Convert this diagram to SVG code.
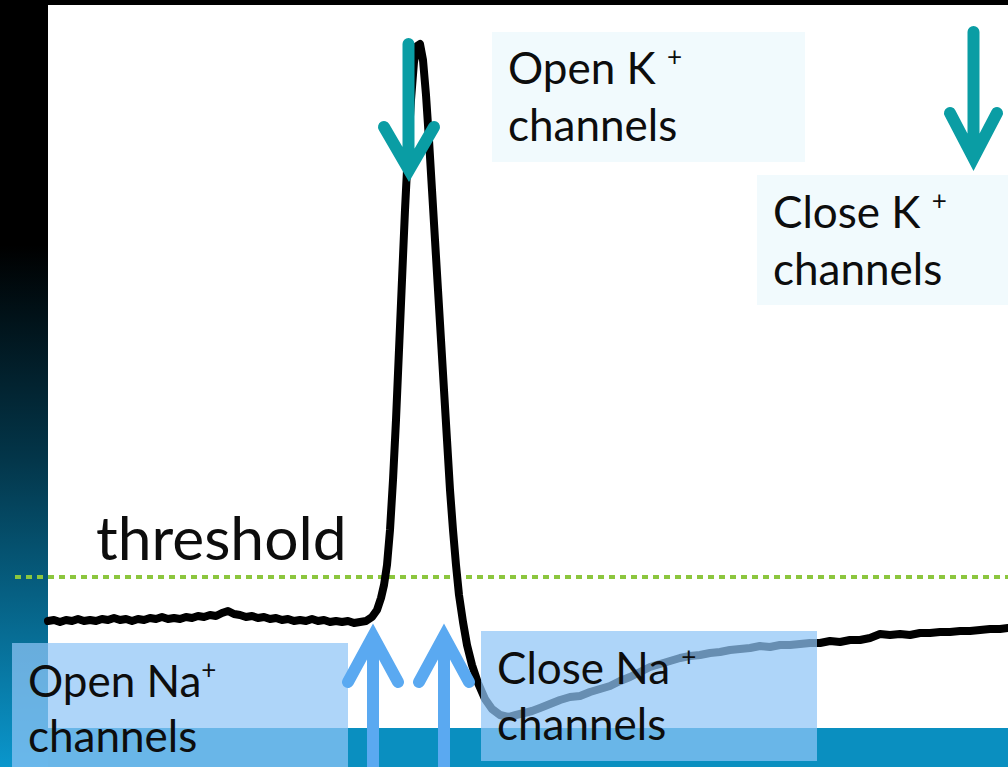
<svg xmlns="http://www.w3.org/2000/svg" width="1008" height="767" viewBox="0 0 1008 767">
  <defs>
    <linearGradient id="bgGrad" x1="0" y1="0" x2="0" y2="767" gradientUnits="userSpaceOnUse">
      <stop offset="0" stop-color="#000000"/>
      <stop offset="0.32" stop-color="#000000"/>
      <stop offset="0.6" stop-color="#03364a"/>
      <stop offset="1" stop-color="#0a96cc"/>
    </linearGradient>
  </defs>
  <style>
    .lbl { font-family: Lato, "Open Sans", "Liberation Sans", sans-serif; font-size: 44px; fill: #0d0d0d; }
    .sup { font-size: 26px; }
    .kbox { fill: #f1fafd; }
    .nabox { fill: #8fc5f6; fill-opacity: 0.72; }
    .trace { fill: none; stroke: #000; stroke-width: 8; stroke-linejoin: round; stroke-linecap: round; }
    .karrow { fill: none; stroke: #0a9da4; stroke-width: 12; stroke-linecap: round; stroke-linejoin: miter; }
    .naarrow { fill: none; stroke: #5aa9f1; stroke-width: 12; stroke-linecap: round; stroke-linejoin: miter; }
  </style>

  <!-- slide background: dark frame, white plotting area, teal footer band -->
  <rect x="0" y="0" width="1008" height="767" fill="url(#bgGrad)"/>
  <rect x="48" y="5" width="960" height="723" fill="#ffffff"/>
  <rect x="48" y="728" width="960" height="39" fill="#0a8fc0"/>

  <!-- threshold level -->
  <line x1="15" y1="577" x2="1008" y2="577" stroke="#8cc63e" stroke-width="4" stroke-dasharray="6 5"/>
  <text class="lbl" x="96" y="560" style="font-size:60.5px">threshold</text>

  <!-- membrane potential trace -->
  <g id="trace">
    <path class="trace" d="M48,621 L54,620 L60,622 L66,620 L72,621 L78,619 L84,621 L90,620 L96,621 L102,619 L108,620 L114,618 L120,620 L126,619 L132,621 L138,619 L144,620 L150,618 L156,619 L162,617 L168,619 L174,618 L180,619 L186,617 L192,618 L198,616 L204,617 L210,615 L216,616 L222,613 L228,611 L234,614 L240,615 L246,617 L252,616 L258,618 L264,617 L270,619 L276,618 L282,620 L288,619 L294,621 L300,620 L306,621 L312,619 L318,621 L324,620 L330,622 L336,621 L342,622 L348,621 L354,623 L360,622 L366,621 L372,617 L377,610 L381,598 L384,585 L387,565 L390,530 L393,480 L396,420 L399,350 L402,280 L405,210 L408,150 L411,100 L414,62 L417,46 L420,44 L423,60 L426,95 L429,140 L432,190 L435,240 L438,290 L441,340 L444,390 L447,440 L450,490 L453,530 L456,565 L459,595 L463,622 L467,645 L472,665 L478,683 L485,699 L492,709 L500,715 L508,717 L516,715 L524,713 L532,711 L540,708 L550,704 L560,700 L570,697 L580,696 L590,692 L600,689 L610,686 L620,681 L630,677 L640,672 L650,667 L660,664 L670,661 L680,658 L690,656 L700,655 L710,653 L720,652 L730,650 L740,649 L750,648 L760,646 L770,647 L780,645 L790,645 L800,644 L810,643 L820,643 L830,641 L840,642 L850,640 L860,640 L870,638 L880,634 L890,635 L900,634 L910,635 L920,633 L930,633 L940,632 L950,632 L960,631 L970,631 L980,630 L990,629 L1000,629 L1008,628"/>
  </g>

  <!-- channel labels -->
  <g id="open-k">
    <rect class="kbox" x="492" y="32" width="313" height="130"/>
    <text class="lbl" x="508" y="84">Open K <tspan class="sup" dy="-18">+</tspan></text>
    <text class="lbl" x="508" y="141">channels</text>
  </g>
  <g id="close-k">
    <rect class="kbox" x="757" y="175" width="251" height="130"/>
    <text class="lbl" x="773" y="228">Close K <tspan class="sup" dy="-18">+</tspan></text>
    <text class="lbl" x="773" y="285">channels</text>
  </g>
  <g id="open-na">
    <rect class="nabox" x="12" y="643" width="336" height="124"/>
    <text class="lbl" x="28" y="697">Open Na<tspan class="sup" dy="-18">+</tspan></text>
    <text class="lbl" x="28" y="752">channels</text>
  </g>
  <g id="close-na">
    <rect class="nabox" x="481" y="631" width="336" height="130"/>
    <text class="lbl" x="497" y="684">Close Na <tspan class="sup" dy="-18">+</tspan></text>
    <text class="lbl" x="497" y="740">channels</text>
  </g>

  <!-- arrows marking each channel event -->
  <g id="connectors">
    <path class="karrow" d="M408.5,44 L408.5,164 M384,127 L409,170 L434,127"/>
    <path class="karrow" d="M973.5,32 L973.5,152 M950,113 L973.5,158 L997,113"/>
    <path class="naarrow" d="M373,767 L373,642 M348,682 L373,636 L398,682"/>
    <path class="naarrow" d="M444,767 L444,642 M419,682 L444,636 L469,682"/>
  </g>
</svg>
